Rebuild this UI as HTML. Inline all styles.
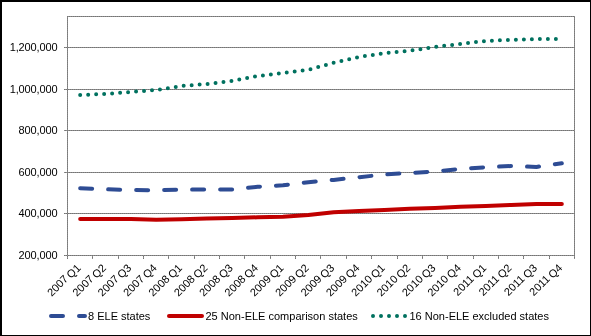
<!DOCTYPE html>
<html><head><meta charset="utf-8"><style>
html,body{margin:0;padding:0;background:#fff;}
body{width:591px;height:336px;overflow:hidden;position:relative;}
svg{position:absolute;left:0;top:0;will-change:transform;}
text{font-family:"Liberation Sans",sans-serif;font-size:11px;fill:#000;}
</style></head><body>
<svg width="591" height="336" viewBox="0 0 591 336">
<defs><pattern id="gp" x="0" y="0" width="2" height="2" patternUnits="userSpaceOnUse"><rect x="0" y="0" width="1" height="1" fill="#8e8e8e"/><rect x="1" y="0" width="1" height="1" fill="#747474"/><rect x="0" y="1" width="1" height="1" fill="#747474"/><rect x="1" y="1" width="1" height="1" fill="#8e8e8e"/></pattern><pattern id="gv" x="0" y="0" width="2" height="2" patternUnits="userSpaceOnUse"><rect x="0" y="0" width="1" height="1" fill="#888888"/><rect x="1" y="0" width="1" height="1" fill="#7a7a7a"/><rect x="0" y="1" width="1" height="1" fill="#7a7a7a"/><rect x="1" y="1" width="1" height="1" fill="#888888"/></pattern></defs>
<rect x="0" y="0" width="591" height="336" fill="#fff"/>

<rect x="0" y="0" width="591" height="2" fill="#000"/>
<rect x="0" y="0" width="2" height="336" fill="#000"/>
<rect x="590" y="0" width="1" height="336" fill="#000"/>
<rect x="0" y="335" width="591" height="1" fill="#000"/>
<rect x="67" y="16" width="508" height="1" fill="url(#gp)"/>
<rect x="574" y="16" width="1" height="240" fill="url(#gv)"/>
<rect x="64" y="47" width="511" height="1" fill="url(#gp)"/>
<rect x="64" y="89" width="511" height="1" fill="url(#gp)"/>
<rect x="64" y="130" width="511" height="1" fill="url(#gp)"/>
<rect x="64" y="172" width="511" height="1" fill="url(#gp)"/>
<rect x="64" y="213" width="511" height="1" fill="url(#gp)"/>
<rect x="64" y="255" width="511" height="1" fill="url(#gp)"/>
<rect x="67" y="16" width="1" height="240" fill="url(#gv)"/>
<rect x="67" y="255" width="1" height="4" fill="url(#gp)"/>
<rect x="92" y="255" width="1" height="4" fill="url(#gp)"/>
<rect x="118" y="255" width="1" height="4" fill="url(#gp)"/>
<rect x="143" y="255" width="1" height="4" fill="url(#gp)"/>
<rect x="168" y="255" width="1" height="4" fill="url(#gp)"/>
<rect x="194" y="255" width="1" height="4" fill="url(#gp)"/>
<rect x="219" y="255" width="1" height="4" fill="url(#gp)"/>
<rect x="244" y="255" width="1" height="4" fill="url(#gp)"/>
<rect x="270" y="255" width="1" height="4" fill="url(#gp)"/>
<rect x="295" y="255" width="1" height="4" fill="url(#gp)"/>
<rect x="320" y="255" width="1" height="4" fill="url(#gp)"/>
<rect x="346" y="255" width="1" height="4" fill="url(#gp)"/>
<rect x="371" y="255" width="1" height="4" fill="url(#gp)"/>
<rect x="397" y="255" width="1" height="4" fill="url(#gp)"/>
<rect x="422" y="255" width="1" height="4" fill="url(#gp)"/>
<rect x="447" y="255" width="1" height="4" fill="url(#gp)"/>
<rect x="473" y="255" width="1" height="4" fill="url(#gp)"/>
<rect x="498" y="255" width="1" height="4" fill="url(#gp)"/>
<rect x="523" y="255" width="1" height="4" fill="url(#gp)"/>
<rect x="549" y="255" width="1" height="4" fill="url(#gp)"/>
<rect x="574" y="255" width="1" height="4" fill="url(#gp)"/>
<text x="57.6" y="50.6" text-anchor="end" style="letter-spacing:-0.11px">1,200,000</text>
<text x="57.6" y="92.6" text-anchor="end" style="letter-spacing:-0.11px">1,000,000</text>
<text x="57.6" y="133.6" text-anchor="end" style="letter-spacing:-0.11px">800,000</text>
<text x="57.6" y="175.6" text-anchor="end" style="letter-spacing:-0.11px">600,000</text>
<text x="57.6" y="216.6" text-anchor="end" style="letter-spacing:-0.11px">400,000</text>
<text x="57.6" y="258.6" text-anchor="end" style="letter-spacing:-0.11px">200,000</text>
<text x="78.67" y="265.90" text-anchor="end" dominant-baseline="central" transform="rotate(-45 78.67 265.90)">Q1</text>
<text x="66.13" y="276.84" text-anchor="end" dominant-baseline="central" transform="rotate(-45 66.13 276.84)">2007</text>
<text x="104.03" y="265.90" text-anchor="end" dominant-baseline="central" transform="rotate(-45 104.03 265.90)">Q2</text>
<text x="91.48" y="276.84" text-anchor="end" dominant-baseline="central" transform="rotate(-45 91.48 276.84)">2007</text>
<text x="129.38" y="265.90" text-anchor="end" dominant-baseline="central" transform="rotate(-45 129.38 265.90)">Q3</text>
<text x="116.83" y="276.84" text-anchor="end" dominant-baseline="central" transform="rotate(-45 116.83 276.84)">2007</text>
<text x="154.73" y="265.90" text-anchor="end" dominant-baseline="central" transform="rotate(-45 154.73 265.90)">Q4</text>
<text x="142.18" y="276.84" text-anchor="end" dominant-baseline="central" transform="rotate(-45 142.18 276.84)">2007</text>
<text x="180.07" y="265.90" text-anchor="end" dominant-baseline="central" transform="rotate(-45 180.07 265.90)">Q1</text>
<text x="167.53" y="276.84" text-anchor="end" dominant-baseline="central" transform="rotate(-45 167.53 276.84)">2008</text>
<text x="205.43" y="265.90" text-anchor="end" dominant-baseline="central" transform="rotate(-45 205.43 265.90)">Q2</text>
<text x="192.88" y="276.84" text-anchor="end" dominant-baseline="central" transform="rotate(-45 192.88 276.84)">2008</text>
<text x="230.78" y="265.90" text-anchor="end" dominant-baseline="central" transform="rotate(-45 230.78 265.90)">Q3</text>
<text x="218.23" y="276.84" text-anchor="end" dominant-baseline="central" transform="rotate(-45 218.23 276.84)">2008</text>
<text x="256.12" y="265.90" text-anchor="end" dominant-baseline="central" transform="rotate(-45 256.12 265.90)">Q4</text>
<text x="243.58" y="276.84" text-anchor="end" dominant-baseline="central" transform="rotate(-45 243.58 276.84)">2008</text>
<text x="281.48" y="265.90" text-anchor="end" dominant-baseline="central" transform="rotate(-45 281.48 265.90)">Q1</text>
<text x="268.93" y="276.84" text-anchor="end" dominant-baseline="central" transform="rotate(-45 268.93 276.84)">2009</text>
<text x="306.83" y="265.90" text-anchor="end" dominant-baseline="central" transform="rotate(-45 306.83 265.90)">Q2</text>
<text x="294.28" y="276.84" text-anchor="end" dominant-baseline="central" transform="rotate(-45 294.28 276.84)">2009</text>
<text x="332.18" y="265.90" text-anchor="end" dominant-baseline="central" transform="rotate(-45 332.18 265.90)">Q3</text>
<text x="319.63" y="276.84" text-anchor="end" dominant-baseline="central" transform="rotate(-45 319.63 276.84)">2009</text>
<text x="357.53" y="265.90" text-anchor="end" dominant-baseline="central" transform="rotate(-45 357.53 265.90)">Q4</text>
<text x="344.98" y="276.84" text-anchor="end" dominant-baseline="central" transform="rotate(-45 344.98 276.84)">2009</text>
<text x="382.88" y="265.90" text-anchor="end" dominant-baseline="central" transform="rotate(-45 382.88 265.90)">Q1</text>
<text x="370.33" y="276.84" text-anchor="end" dominant-baseline="central" transform="rotate(-45 370.33 276.84)">2010</text>
<text x="408.23" y="265.90" text-anchor="end" dominant-baseline="central" transform="rotate(-45 408.23 265.90)">Q2</text>
<text x="395.68" y="276.84" text-anchor="end" dominant-baseline="central" transform="rotate(-45 395.68 276.84)">2010</text>
<text x="433.58" y="265.90" text-anchor="end" dominant-baseline="central" transform="rotate(-45 433.58 265.90)">Q3</text>
<text x="421.03" y="276.84" text-anchor="end" dominant-baseline="central" transform="rotate(-45 421.03 276.84)">2010</text>
<text x="458.93" y="265.90" text-anchor="end" dominant-baseline="central" transform="rotate(-45 458.93 265.90)">Q4</text>
<text x="446.38" y="276.84" text-anchor="end" dominant-baseline="central" transform="rotate(-45 446.38 276.84)">2010</text>
<text x="484.28" y="265.90" text-anchor="end" dominant-baseline="central" transform="rotate(-45 484.28 265.90)">Q1</text>
<text x="471.73" y="276.84" text-anchor="end" dominant-baseline="central" transform="rotate(-45 471.73 276.84)">2011</text>
<text x="509.62" y="265.90" text-anchor="end" dominant-baseline="central" transform="rotate(-45 509.62 265.90)">Q2</text>
<text x="497.08" y="276.84" text-anchor="end" dominant-baseline="central" transform="rotate(-45 497.08 276.84)">2011</text>
<text x="534.98" y="265.90" text-anchor="end" dominant-baseline="central" transform="rotate(-45 534.98 265.90)">Q3</text>
<text x="522.43" y="276.84" text-anchor="end" dominant-baseline="central" transform="rotate(-45 522.43 276.84)">2011</text>
<text x="560.33" y="265.90" text-anchor="end" dominant-baseline="central" transform="rotate(-45 560.33 265.90)">Q4</text>
<text x="547.78" y="276.84" text-anchor="end" dominant-baseline="central" transform="rotate(-45 547.78 276.84)">2011</text>
<polyline points="80.17,188.20 105.53,189.30 130.88,190.00 156.23,190.20 181.57,189.70 206.93,189.50 232.28,189.60 257.62,186.80 282.98,185.30 308.33,182.20 333.68,179.90 359.03,177.20 384.38,174.50 409.73,173.00 435.08,171.50 460.43,168.90 485.78,167.20 511.12,166.00 536.48,166.90 561.83,163.20" fill="none" stroke="#2E4C94" stroke-width="4" stroke-linecap="round" stroke-linejoin="round" stroke-dasharray="12 16"/>
<polyline points="80.17,218.90 105.53,218.90 130.88,218.90 156.23,219.80 181.57,219.20 206.93,218.50 232.28,217.90 257.62,217.30 282.98,216.80 308.33,215.10 333.68,212.20 359.03,210.90 384.38,209.90 409.73,208.80 435.08,207.90 460.43,206.80 485.78,206.00 511.12,205.00 536.48,204.00 561.83,204.00" fill="none" stroke="#C00000" stroke-width="4" stroke-linecap="round" stroke-linejoin="round"/>
<polyline points="80.17,95.00 105.53,93.90 130.88,92.00 156.23,90.00 181.57,86.00 206.93,84.00 232.28,81.00 257.62,76.00 282.98,73.00 308.33,69.80 333.68,62.80 359.03,57.00 384.38,53.10 409.73,50.80 435.08,46.90 460.43,44.00 485.78,40.90 511.12,39.90 536.48,39.00 561.83,38.90" fill="none" stroke="#00715F" stroke-width="4" stroke-linecap="round" stroke-linejoin="round" stroke-dasharray="0 8"/>
<line x1="51" y1="316" x2="85" y2="316" stroke="#2E4C94" stroke-width="4" stroke-linecap="round" stroke-dasharray="12 16"/>
<text x="88" y="320">8 ELE states</text>
<line x1="169" y1="316" x2="202" y2="316" stroke="#C00000" stroke-width="4" stroke-linecap="round"/>
<text x="205.5" y="320">25 Non-ELE comparison states</text>
<line x1="373" y1="316" x2="405.5" y2="316" stroke="#00715F" stroke-width="4" stroke-linecap="round" stroke-dasharray="0 8"/>
<text x="409.5" y="320">16 Non-ELE excluded states</text>
</svg></body></html>
